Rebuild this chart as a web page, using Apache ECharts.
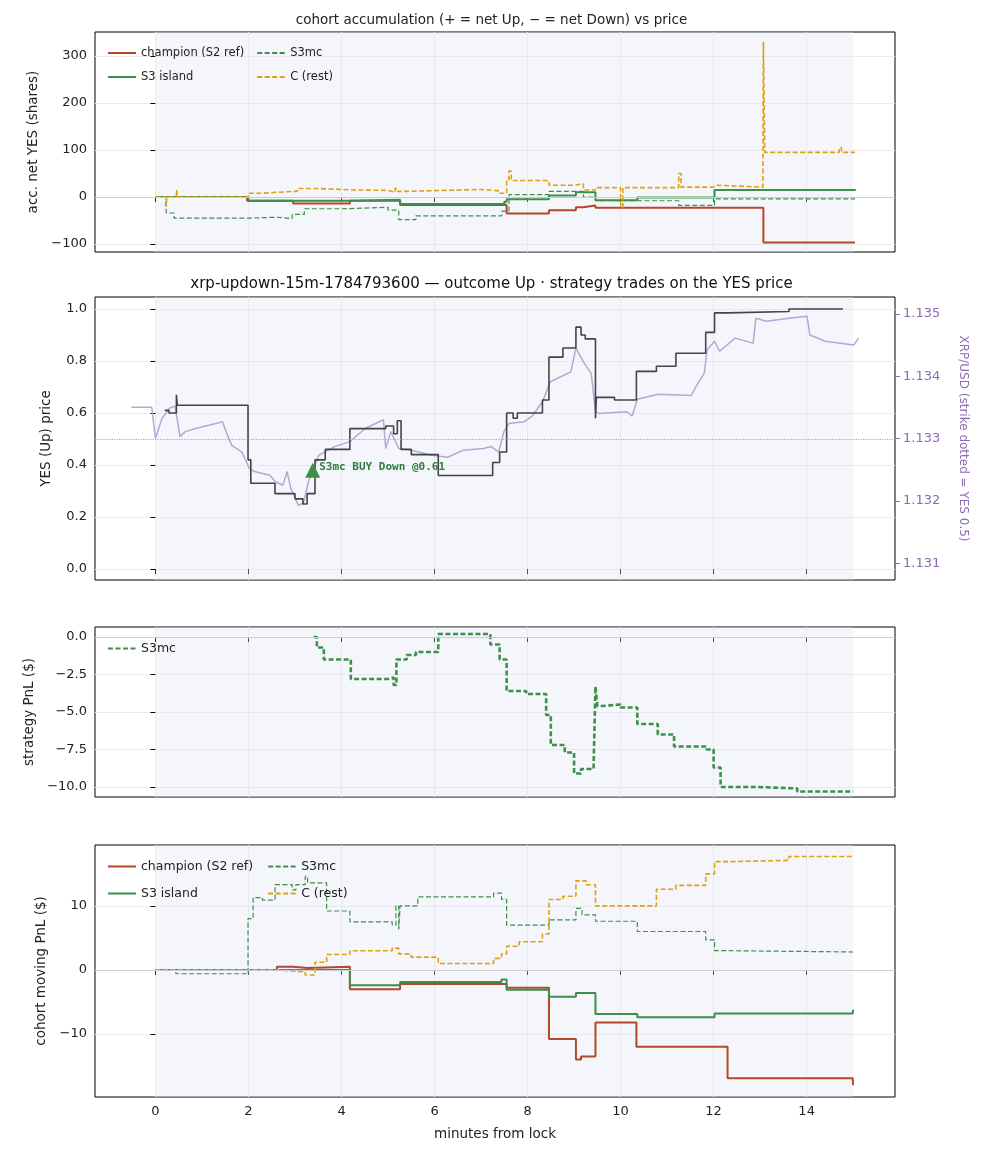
<!DOCTYPE html>
<html lang="en">
<head>
<meta charset="UTF-8">
<title>cohort accumulation</title>
<script src="https://cdn.jsdelivr.net/npm/echarts@6/dist/echarts.min.js"></script>
</head>
<body style="margin:0;background:#fff">
<div id="main" style="width:983px;height:1156px"></div>
<script>
// panel 1: accumulated net YES (shares)
var accChampT = [0,1.97,2.96,4.18,5.26,7.55,8.46,9.04,9.2,9.46,13.07,15.04];
var accChampV = [0,-8,-14,-8,-17,-35,-28,-22,-18,-23,-97,-97];
var accIslandT = [0,2,4.18,5.26,7.5,7.55,8.46,9.04,9.46,10.36,12.02,15.04];
var accIslandV = [0,-8,-6,-15,-10,-5,3,10,-7,-1,15,17];
var accS3mcT = [0,0.23,0.4,2.02,2.6,2.94,3.2,4.01,5.0,5.23,5.6,7.45,7.6,8.46,9.2,9.46,11.25,12.02,15.04];
var accS3mcV = [0,-34,-45,-43,-46,-37,-25,-22,-28,-48,-40,-30,5,12,0,-8,-18,-4,-4];
var accRestT = [0,0.22,0.25,0.45,0.48,2.0,2.3,2.6,3.0,3.05,3.5,4.3,5.0,5.15,5.2,5.4,7.0,7.4,7.55,7.6,7.65,8.46,9.0,9.2,9.46,10.0,10.05,11.25,11.3,12.0,12.05,13.06,13.07,13.1,14.7,14.75,15.04];
var accRestV = [0,-20,0,15,0,8,10,12,12,18,15,14,10,18,12,16,13,8,35,55,35,25,28,15,20,-22,20,50,21,25,21,22,330,95,105,95,95];

// panel 2: YES price and XRP/USD
var yesT = [0.2,0.29,0.45,0.47,1.99,2.05,2.57,2.94,3.0,3.17,3.26,3.43,3.65,4.18,4.95,5.12,5.2,5.28,5.5,6.08,7.25,7.4,7.55,7.69,7.78,8.32,8.46,8.76,9.04,9.15,9.24,9.46,9.48,9.87,10.34,10.77,11.19,11.83,12.02,12.3,13.62,14.78];
var yesV = [0.61,0.60,0.67,0.63,0.42,0.33,0.29,0.29,0.27,0.25,0.29,0.42,0.46,0.54,0.55,0.52,0.57,0.46,0.44,0.36,0.41,0.45,0.60,0.58,0.60,0.65,0.815,0.85,0.93,0.90,0.885,0.58,0.66,0.65,0.76,0.78,0.83,0.91,0.985,0.99,1.0,1.0];
var xrpT = [-0.52,-0.08,0,0.14,0.31,0.42,0.53,0.64,0.86,1.30,1.44,1.55,1.64,1.86,2.02,2.13,2.46,2.57,2.74,2.83,2.91,3.07,3.18,3.29,3.51,3.85,4.18,4.51,4.90,4.95,5.06,5.23,5.50,5.94,6.28,6.61,7.05,7.22,7.38,7.49,7.60,7.93,8.10,8.32,8.49,8.93,9.04,9.20,9.37,9.46,9.54,10.14,10.25,10.36,10.81,11.52,11.64,11.80,11.86,12.02,12.13,12.46,12.85,12.91,13.13,13.62,14.01,14.07,14.40,15.01,15.12];
var xrpV = [1.13350,1.13350,1.13300,1.13332,1.13349,1.13352,1.13303,1.13311,1.13316,1.13324,1.13327,1.13305,1.13289,1.13278,1.13252,1.13247,1.13241,1.13231,1.13225,1.13247,1.13220,1.13193,1.13196,1.13231,1.13273,1.13287,1.13295,1.13316,1.13330,1.13284,1.13311,1.13284,1.13281,1.13273,1.13270,1.13281,1.13284,1.13287,1.13278,1.13311,1.13324,1.13327,1.13336,1.13359,1.13391,1.13407,1.13445,1.13423,1.13404,1.13343,1.13340,1.13343,1.13336,1.13363,1.13371,1.13369,1.13386,1.13405,1.13442,1.13456,1.13440,1.13461,1.13453,1.13493,1.13488,1.13493,1.13496,1.13466,1.13456,1.13450,1.13461];
var tradeT = [3.38];
var tradeV = [0.38];
var tradeLabel = 'S3mc BUY Down @0.61';

// panel 3: strategy PnL
var pnlT = [3.40,3.47,3.62,4.2,5.0,5.12,5.18,5.4,5.6,6.08,7.2,7.4,7.55,7.97,8.4,8.5,8.8,9.0,9.15,9.42,9.46,9.5,9.6,10.0,10.36,10.8,11.15,11.85,12.0,12.15,12.9,13.8,15.0];
var pnlV = [0,-0.7,-1.5,-2.8,-2.7,-3.2,-1.5,-1.2,-1.0,0.2,-0.5,-1.5,-3.6,-3.8,-5.2,-7.2,-7.7,-9.1,-8.8,-8.6,-3.3,-4.6,-4.5,-4.7,-5.8,-6.5,-7.3,-7.5,-8.7,-10.0,-10.1,-10.3,-10.3];

// panel 4: cohort moving PnL
var movChampT = [0,2.61,2.96,3.27,4.18,5.26,7.55,8.46,9.04,9.15,9.46,10.34,12.30,14.99,15.0];
var movChampV = [0,0.5,0.3,0.5,-3,-2.2,-2.8,-10.8,-14,-13.5,-8.2,-12,-16.9,-16.9,-18];
var movIslandT = [0,4.18,5.26,7.44,7.55,8.46,9.04,9.46,10.36,12.02,14.99,15.0];
var movIslandV = [0,-2.4,-1.9,-1.5,-3.1,-4.2,-3.6,-6.9,-7.4,-6.8,-6.8,-6.2];
var movS3mcT = [0,0.44,1.99,2.10,2.30,2.57,2.94,3.02,3.22,3.27,3.68,4.18,5.09,5.17,5.23,5.26,5.64,7.27,7.44,7.55,8.46,9.04,9.17,9.46,10.36,11.83,12.02,12.32,15];
var movS3mcV = [0,-0.6,8,11.3,10.9,13.3,12.5,13.3,14.6,13.6,9.2,7.5,7.0,10,6.3,10,11.4,12,11,7,7.8,9.6,8.6,7.6,6.0,4.7,3.0,2.8,2.8];
var movRestT = [0,2.61,3.22,3.43,3.68,4.18,5.09,5.23,5.5,6.08,7.27,7.44,7.55,7.82,8.32,8.46,8.76,9.04,9.26,9.46,10.77,11.19,11.83,12.02,12.3,13.62,15.0];
var movRestV = [0,-0.3,-0.8,1.2,2.4,3,3.4,2.5,2.0,1.0,1.8,2.5,3.7,4.4,5.6,11,11.5,13.9,13.3,10,12.6,13.2,15,16.9,17.1,17.7,17.9];

var xTicks = [0,2,4,6,8,10,12,14];

var RED = '#b5472a', GREEN = '#3d8f4a', ORANGE = '#e0a010', DARK = '#444444', PURPLE = '#b4a7d6', PURPLE_TXT = '#8c6bb1';
var FONT = 'DejaVu Sans';

function zip(t, v) { return t.map(function (x, i) { return [x, v[i]]; }); }
function minus(s) { return String(s).replace('-', '\u2212'); }

var myChart = echarts.init(document.getElementById('main'));

var grids = [
    {left: 95, right: 88, top: 32, height: 220},
    {left: 95, right: 88, top: 297, height: 283},
    {left: 95, right: 88, top: 627, height: 170},
    {left: 95, right: 88, top: 845, height: 252}
].map(function (g) { g.show = true; g.borderColor = '#000'; g.borderWidth = 1; g.backgroundColor = 'transparent'; return g; });

var xAxes = grids.map(function (g, i) {
    return {
        type: 'value', gridIndex: i, min: -1.3, max: 15.9,
        axisLine: {show: false},
        axisTick: {show: true, customValues: xTicks, length: 5, lineStyle: {color: '#000'}},
        axisLabel: {show: i === 3, customValues: xTicks, color: '#222', fontSize: 13, fontFamily: FONT},
        splitLine: {show: true, lineStyle: {color: '#ebebeb'}},
        name: i === 3 ? 'minutes from lock' : '', nameLocation: 'middle', nameGap: 30,
        nameTextStyle: {fontSize: 13.5, color: '#222', fontFamily: FONT}
    };
});

function yAx(grid, min, max, ticks, name, fmt, gap) {
    return {
        type: 'value', gridIndex: grid, min: min, max: max,
        axisLine: {show: false},
        axisTick: {show: true, customValues: ticks, length: 5, lineStyle: {color: '#000'}},
        axisLabel: {customValues: ticks, color: '#222', fontSize: 13, fontFamily: FONT, formatter: fmt},
        splitLine: {show: true, lineStyle: {color: '#ebebeb'}},
        name: name, nameLocation: 'middle', nameGap: gap,
        nameTextStyle: {fontSize: 13.5, color: '#222', fontFamily: FONT}
    };
}

var yAxes = [
    yAx(0, -117, 351, [-100,0,100,200,300], 'acc. net YES (shares)', function (v) { return minus(v); }, 50),
    yAx(1, -0.042, 1.046, [0,0.2,0.4,0.6,0.8,1.0], 'YES (Up) price', function (v) { return v.toFixed(1); }, 42),
    yAx(2, -10.67, 0.67, [-10,-7.5,-5,-2.5,0], 'strategy PnL ($)', function (v) { return minus(v.toFixed(1)); }, 58),
    yAx(3, -19.84, 19.5, [-10,0,10], 'cohort moving PnL ($)', function (v) { return minus(v); }, 42),
    {
        type: 'value', gridIndex: 1, position: 'right', min: 1.13073, max: 1.13527,
        axisLine: {show: false},
        axisTick: {show: true, customValues: [1.131,1.132,1.133,1.134,1.135], length: 5, lineStyle: {color: PURPLE_TXT}},
        axisLabel: {customValues: [1.131,1.132,1.133,1.134,1.135], color: PURPLE_TXT, fontSize: 13, fontFamily: FONT,
            formatter: function (v) { return v.toFixed(3); }},
        splitLine: {show: false},
        name: 'XRP/USD (strike dotted = YES 0.5)', nameLocation: 'middle', nameGap: 62, nameRotate: 270,
        nameTextStyle: {fontSize: 12, color: PURPLE_TXT, fontFamily: FONT}
    }
];

var band = {silent: true, itemStyle: {color: 'rgba(225,230,245,0.35)'}, data: [[{xAxis: 0}, {xAxis: 15}]]};
function zeroLine() {
    return {silent: true, symbol: 'none', label: {show: false}, lineStyle: {color: '#cccccc', type: 'solid', width: 1}, data: [{yAxis: 0}]};
}

function step(name, g, t, v, color, width, dashed, extra) {
    var s = {
        name: name, type: 'line', xAxisIndex: g, yAxisIndex: g, step: 'end', showSymbol: false, symbol: 'none',
        data: zip(t, v), lineStyle: {color: color, width: width, type: dashed ? [5, 2.5] : 'solid'},
        itemStyle: {color: color}, animation: false, z: 3
    };
    if (extra) for (var k in extra) s[k] = extra[k];
    return s;
}

var series = [
    step('champion (S2 ref)', 0, accChampT, accChampV, RED, 2, false, {markArea: band, markLine: zeroLine()}),
    step('S3 island', 0, accIslandT, accIslandV, GREEN, 2, false),
    step('S3mc', 0, accS3mcT, accS3mcV, GREEN, 1.2, true),
    step('C (rest)', 0, accRestT, accRestV, ORANGE, 1.6, true),

    {
        name: 'xrp', type: 'line', xAxisIndex: 1, yAxisIndex: 4, showSymbol: false, data: zip(xrpT, xrpV),
        lineStyle: {color: PURPLE, width: 1.5}, animation: false, z: 2
    },
    step('yes', 1, yesT, yesV, DARK, 1.6, false, {
        markArea: band,
        markLine: {silent: true, symbol: 'none', label: {show: false},
            lineStyle: {color: '#aaaaaa', type: 'dotted', width: 1.2}, data: [{yAxis: 0.5}]}
    }),
    {
        name: 'trade', type: 'scatter', xAxisIndex: 1, yAxisIndex: 1, data: zip(tradeT, tradeV),
        symbol: 'triangle', symbolSize: 15, itemStyle: {color: GREEN, opacity: 1}, z: 5, animation: false,
        label: {show: true, position: 'right', offset: [-6, -3], formatter: tradeLabel, color: '#2f7d3c',
            fontFamily: 'DejaVu Sans Mono', fontWeight: 'bold', fontSize: 11}
    },

    step('S3mc ', 2, pnlT, pnlV, GREEN, 2.6, true, {markArea: band, markLine: zeroLine()}),

    step('champion (S2 ref)', 3, movChampT, movChampV, RED, 2, false, {markArea: band, markLine: zeroLine()}),
    step('S3 island', 3, movIslandT, movIslandV, GREEN, 2, false),
    step('S3mc', 3, movS3mcT, movS3mcV, GREEN, 1.2, true),
    step('C (rest)', 3, movRestT, movRestV, ORANGE, 1.6, true)
];

function legend(names, left, top, size, h, gap) {
    return {
        data: names, left: left, top: top, orient: 'vertical', height: h, itemGap: gap, itemWidth: 28, itemHeight: 10,
        itemStyle: {opacity: 0},
        textStyle: {fontSize: size, color: '#222', fontFamily: FONT}, selectedMode: false
    };
}

option = {
    backgroundColor: '#fff',
    title: [
        {text: 'cohort accumulation (+ = net Up, \u2212 = net Down) vs price', left: 'center', top: 8,
            textStyle: {fontSize: 13.5, fontWeight: 'normal', color: '#222', fontFamily: FONT}},
        {text: 'xrp-updown-15m-1784793600 \u2014 outcome Up \u00b7 strategy trades on the YES price', left: 'center', top: 272,
            textStyle: {fontSize: 15, fontWeight: 'normal', color: '#111', fontFamily: FONT}}
    ],
    legend: [
        legend(['champion (S2 ref)', 'S3 island', 'S3mc', 'C (rest)'], 102, 42, 11.5, 42, 12),
        legend(['S3mc '], 102, 637, 12.5, 20, 6),
        legend(['champion (S2 ref)', 'S3 island', 'S3mc', 'C (rest)'], 102, 855, 12.5, 44, 14)
    ],
    grid: grids,
    xAxis: xAxes,
    yAxis: yAxes,
    series: series
};

myChart.setOption(option);
</script>
</body>
</html>
